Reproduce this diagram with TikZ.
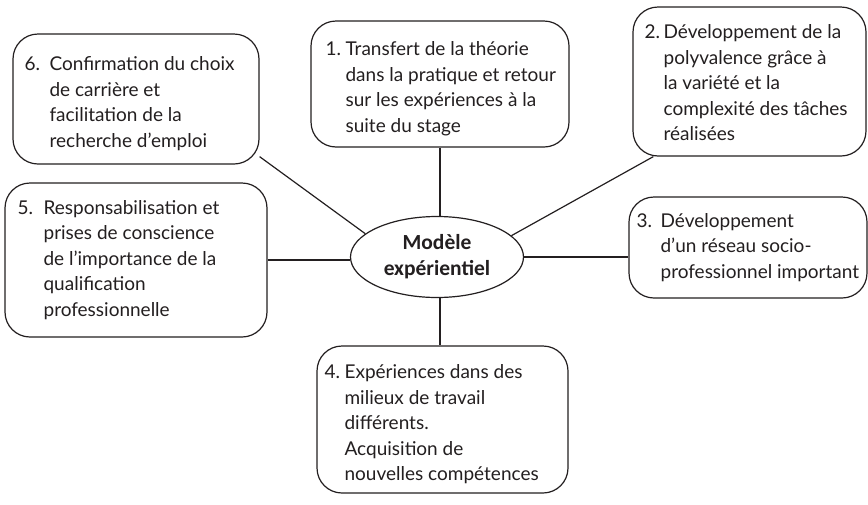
\documentclass[tikz,border=0pt]{standalone}
\usepackage{fontspec}
\setmainfont{Lato}
\newfontfamily\ctrfont{Carlito}
\usetikzlibrary{backgrounds,shapes.geometric}
\definecolor{ink}{HTML}{231F20}
\newcommand{\numtab}[2]{\begin{tabular}{@{}p{#1}@{}l@{}}#2\end{tabular}}
\begin{document}
\begin{tikzpicture}[x=1pt,y=-1pt,
  box/.style={draw=ink, line width=1.2pt, rounded corners=25pt, fill=white, inner sep=0pt},
  txt/.style={anchor=west, inner sep=0pt, text=ink, align=left, font=\fontsize{19}{25.5}\selectfont},
  link/.style={draw=ink, line width=1.2pt}]
\useasboundingbox (0,0) rectangle (868,504);

\node[box, minimum width=258pt, minimum height=126pt] (b1) at (440,84) {};
\node[box, minimum width=233pt, minimum height=149pt] (b2) at (749.5,81.5) {};
\node[box, minimum width=238pt, minimum height=101pt] (b3) at (748,247.5) {};
\node[box, minimum width=251pt, minimum height=147pt] (b4) at (442.5,419.5) {};
\node[box, minimum width=262pt, minimum height=154pt] (b5) at (136,260) {};
\node[box, minimum width=246pt, minimum height=130pt] (b6) at (136,99) {};

\node[txt] (t1) at ([xshift=15pt,yshift=-5pt]b1.west)
  {\numtab{20pt}{1. & Transfert de la théorie\\ & dans la pratique et retour\\ & sur les expériences à la\\ & suite du stage}};
\node[txt] (t2) at ([xshift=12pt,yshift=-3pt]b2.west)
  {\numtab{19pt}{2. & Développement de la\\ & polyvalence grâce à\\ & la variété et la\\ & complexité des tâches\\ & réalisées}};
\node[txt] (t3) at ([xshift=8pt]b3.west)
  {\numtab{24pt}{3. & Développement\\ & d’un réseau socio-\\ & professionnel important}};
\node[txt] (t4) at ([xshift=8pt,yshift=-5pt]b4.west)
  {\numtab{20pt}{4. & Expériences dans des\\ & milieux de travail\\ & différents.\\ & Acquisition de\\ & nouvelles compétences}};
\node[txt] (t5) at ([xshift=13pt]b5.west)
  {\numtab{26pt}{5. & Responsabilisation et\\ & prises de conscience\\ & de l’importance de la\\ & qualification\\ & professionnelle}};
\node[txt] (t6) at ([xshift=12pt,yshift=-5pt]b6.west)
  {\numtab{25pt}{6. & Confirmation du choix\\ & de carrière et\\ & facilitation de la\\ & recherche d’emploi}};

\node[draw=ink, line width=1.2pt, ellipse, minimum width=173pt, minimum height=81pt, inner sep=0pt,
  fill=white, text=ink, align=center, font=\ctrfont\bfseries\fontsize{21.5}{26}\selectfont] (ell) at (437,257)
  {Modèle\\expérientiel};

\begin{scope}[on background layer]
\draw[link] (b1.south) -- (b1.south |- ell.north);
\draw[link] (ell.16) -- (b2.218);
\draw[link] (ell.east) -- (ell.east -| b3.west);
\draw[link] (b1.south |- ell.south) -- (b1.south |- b4.north);
\draw[link] (b5.east) -- (b5.east -| ell.west);
\draw[link] (ell.162) -- (b6.335);
\end{scope}
\end{tikzpicture}
\end{document}
